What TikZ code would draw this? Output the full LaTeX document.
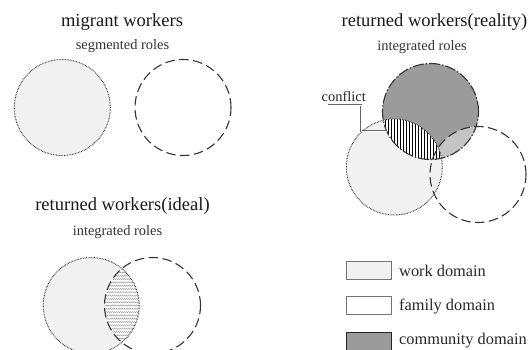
\documentclass[tikz,border=0pt]{standalone}
\usepackage{fontspec}
\setmainfont{Liberation Serif}
\usetikzlibrary{calc,decorations.pathmorphing}

\definecolor{workgray}{HTML}{F1F1F1}
\definecolor{commgray}{HTML}{9B9B9B}
\definecolor{sharegray}{HTML}{C4C4C4}

\newcommand{\circrad}{48bp}

\begin{document}
\begin{tikzpicture}[x=1bp,y=-1bp,
  title/.style={font=\fontsize{18.6}{20}\selectfont, text=black!90, inner sep=0pt},
  subtitle/.style={font=\fontsize{14.5}{16}\selectfont, text=black!80, inner sep=0pt},
  legend/.style={font=\fontsize{16.4}{18}\selectfont, text=black!85, inner sep=0pt, anchor=west},
  work/.style={draw=black!80, line width=1pt, dash pattern=on 0.7pt off 0.9pt},
  family/.style={draw=black!80, line width=1.1pt, dash pattern=on 9.5pt off 4.5pt},
  community/.style={draw=black!80, line width=1.1pt, dash pattern=on 11pt off 2pt on 1.5pt off 2pt},
  swatch/.style={minimum width=45bp, minimum height=17.5bp, line width=0.8pt, inner sep=0pt},
  leader/.style={draw=black!60, double=white, double distance=0.7pt, line width=0.7pt}]
  \useasboundingbox (0,0) rectangle (532,349);

  % migrant workers
  \node[title] (mw-title) at (122,22) {migrant workers};
  \node[subtitle] (mw-sub) at (122.5,46.5) {segmented roles};
  \coordinate (mw-work) at (62.3,107.5);
  \coordinate (mw-fam) at (183,107.5);
  \fill[workgray] (mw-work) circle[radius=\circrad];
  \draw[work] (mw-work) circle[radius=\circrad];
  \draw[family] (mw-fam) circle[radius=\circrad];

  % returned workers, ideal case
  \node[title] (id-title) at (122.5,205.8) {returned workers(ideal)};
  \node[subtitle] (id-sub) at (117.5,231.7) {integrated roles};
  \coordinate (id-work) at (91.2,305.5);
  \coordinate (id-fam) at (152.5,305.5);
  \fill[workgray] (id-work) circle[radius=\circrad];
  \begin{scope}
    \clip (id-work) circle[radius=\circrad];
    \clip (id-fam) circle[radius=\circrad];
    \fill[white] (id-fam) circle[radius=\circrad];
    \foreach \y in {256,259.3,...,357}
      \draw[black!35, line width=0.45pt, decorate,
            decoration={zigzag, segment length=2bp, amplitude=0.6bp}] (100,\y) -- (145,\y);
  \end{scope}
  \draw[work] (id-work) circle[radius=\circrad];
  \draw[family] (id-fam) circle[radius=\circrad];

  % returned workers, reality
  \node[title] (re-title) at (434.5,22) {returned workers(reality)};
  \node[subtitle] (re-sub) at (422,47) {integrated roles};
  \coordinate (re-comm) at (430.5,111.5);
  \coordinate (re-work) at (394.3,167);
  \coordinate (re-fam) at (478,174.5);
  \fill[workgray] (re-work) circle[radius=\circrad];
  \fill[commgray] (re-comm) circle[radius=\circrad];
  \begin{scope}
    \clip (re-comm) circle[radius=\circrad];
    \fill[sharegray] (re-fam) circle[radius=\circrad];
  \end{scope}
  \begin{scope}
    \clip (re-comm) circle[radius=\circrad];
    \clip (re-work) circle[radius=\circrad];
    \fill[white] (re-work) circle[radius=\circrad];
    \foreach \x in {340,343,...,452}
      \draw[black, line width=0.7pt] (\x,100) -- (\x,170);
  \end{scope}
  \draw[work] (re-work) circle[radius=\circrad];
  \draw[family] (re-fam) circle[radius=\circrad];
  \draw[community] (re-comm) circle[radius=\circrad];

  % conflict label
  \node[subtitle, text=black!85] (conflict) at (343.7,96) {conflict};
  \coordinate (bend) at (361,131);
  \coordinate (hatch) at (387,131);
  \draw[leader] ($(conflict.south west)+(6.5,4)$) -| (bend) -- (hatch);

  % legend
  \node[swatch, draw=black!55, fill=workgray] (key-work) at (369.2,270.5) {};
  \node[legend] (lbl-work) at (399,270.7) {work domain};
  \node[swatch, draw=black!55, fill=white] (key-fam) at (369.2,305.3) {};
  \node[legend] (lbl-fam) at (399,306.5) {family domain};
  \node[swatch, draw=black!85, fill=commgray] (key-comm) at (369.2,341.4) {};
  \node[legend] (lbl-comm) at (399,340.5) {community domain};
\end{tikzpicture}
\end{document}
